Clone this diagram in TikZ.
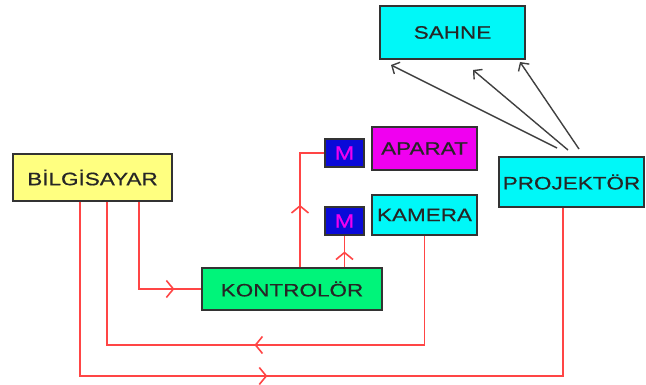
\documentclass[tikz,border=0pt]{standalone}
\usepackage{fontspec}
\setmainfont{Liberation Sans}[FakeStretch=1.25,FakeBold=0.6]
\usetikzlibrary{arrows.meta,decorations.markings}
\definecolor{sari}{HTML}{FFFF80}
\definecolor{yesil}{HTML}{00F47A}
\definecolor{mor}{HTML}{F000F0}
\definecolor{camgobegi}{HTML}{00F8F8}
\definecolor{lacivert}{HTML}{0A0AD8}
\definecolor{kirmizi}{HTML}{FF4545}
\tikzset{
  kutu/.style={draw=black!80, line width=1.3pt, inner sep=0pt, text=black!85,
    font=\fontsize{18}{20}\selectfont},
  motor/.style={kutu, fill=lacivert, text=mor, minimum width=39, minimum height=28,
    font=\fontsize{19}{20}\selectfont},
  hat/.style={kirmizi, line width=1.8pt},
  arrowat/.style={postaction={decorate,decoration={markings,
    mark=at position #1 with {\arrow{Straight Barb[length=7pt,width=17pt,line width=1.6pt]}}}}},
  isik/.style={black!75, line width=1.4pt, -{Straight Barb[length=6pt,width=13pt]}}
}
\begin{document}
\begin{tikzpicture}[x=1pt,y=-1pt]
\useasboundingbox (0,0) rectangle (646,385);

\node[kutu, fill=sari, minimum width=159, minimum height=47] (bil) at (92.5,177.5) {BİLGİSAYAR};
\node[kutu, fill=yesil, minimum width=180, minimum height=42] (kon) at (292,289) {KONTROLÖR};
\node[motor] (m1) at (344.5,153) {M};
\node[motor] (m2) at (344.5,221) {M};
\node[kutu, fill=mor, minimum width=105, minimum height=43] (apa) at (424.5,148.5) {APARAT};
\node[kutu, fill=camgobegi, minimum width=105, minimum height=40] (kam) at (424.5,215) {KAMERA};
\node[kutu, fill=camgobegi, minimum width=145, minimum height=53] (sah) at (452.5,32.5) {SAHNE};
\node[kutu, fill=camgobegi, minimum width=145, minimum height=50] (pro) at (571.5,182) {PROJEKTÖR};

\draw[hat, arrowat=0.82] (bil.south -| 139,0) |- (kon.west);
\draw[hat, arrowat=0.49] (kam.south) |- (107,345) -- (bil.south -| 107,0);
\draw[hat, arrowat=0.438] (bil.south -| 80,0) |- (563,376) -- (pro.south -| 563,0);
\draw[hat, arrowat=0.45] (kon.north -| 300,0) |- (m1.west);
\draw[hat, arrowat=0.5] (kon.north -| m2.south) -- (m2.south);

\coordinate (p1) at (557,148);
\coordinate (p2) at (568,150);
\coordinate (p3) at (579,149);
\coordinate (s1) at (391,65);
\coordinate (s2) at (473,70);
\coordinate (s3) at (520,62);
\draw[isik] (p1) -- (s1);
\draw[isik] (p2) -- (s2);
\draw[isik] (p3) -- (s3);

\end{tikzpicture}
\end{document}
